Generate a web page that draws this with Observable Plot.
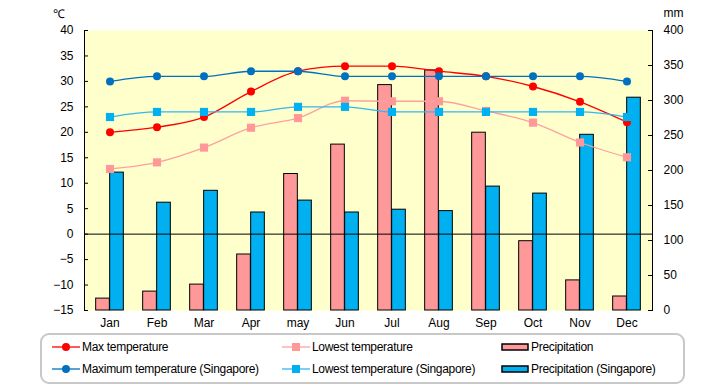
<!DOCTYPE html>
<html>
<head>
<meta charset="utf-8">
<script src="https://cdn.jsdelivr.net/npm/d3@7"></script>
<script src="https://cdn.jsdelivr.net/npm/@observablehq/plot@0.6"></script>
<style>
  body { margin: 0; background: #fff; font-family: "Liberation Sans", Arial, sans-serif; }
  #wrap { width: 720px; height: 385px; position: relative; }
  #legend { position: absolute; left: 40px; top: 333px; width: 641px; height: 47px; border: 2px solid #c8c8c8; border-radius: 9px; font-size: 12px; letter-spacing: -0.3px; }
  .item { position: absolute; display: flex; align-items: center; white-space: nowrap; }
  .item svg { margin-right: 2px; }
</style>
</head>
<body>
<div id="wrap"><div id="chart"></div><div id="legend"></div></div>
<script>
const months = ["Jan","Feb","Mar","Apr","may","Jun","Jul","Aug","Sep","Oct","Nov","Dec"];
const maxTemp = [20,21,23,28,32,33,33,32,31,29,26,22];
const lowTemp = [12.8,14.1,17,20.9,22.8,26.2,26.1,26.1,24.2,21.9,18,15.1];
const precip = [17,27,37,80,195,237,322,343,254,99,43,20];
const sgMaxTemp = [30,31,31,32,32,31,31,31,31,31,31,30];
const sgLowTemp = [23,24,24,24,25,25,24,24,24,24,24,23];
const sgPrecip = [197,154,171,140,157,140,144,142,177,167,251,304];
const tempTicks = [-15,-10,-5,0,5,10,15,20,25,30,35,40];
const mmTicks = [0,50,100,150,200,250,300,350,400];

const RED = "#FF0000", PINK = "#FF9999", BLUE = "#0070C0", CYAN = "#00B0F0";
const W = 720, H = 330, ML = 84, MR = 68, MT = 30, MB = 20;
const bw = (W - ML - MR) / months.length;
const barW = 14;
const toC = mm => -15 + mm * 55 / 400;

const data = months.map((m, i) => ({
  month: m, maxTemp: maxTemp[i], lowTemp: lowTemp[i], precip: precip[i],
  sgMaxTemp: sgMaxTemp[i], sgLowTemp: sgLowTemp[i], sgPrecip: sgPrecip[i]
}));

const font = '"Liberation Sans", Arial, sans-serif';

const chart = Plot.plot({
  width: W, height: H,
  marginLeft: ML, marginRight: MR, marginTop: MT, marginBottom: MB,
  style: { fontFamily: font, fontSize: "12px", background: "white", color: "black" },
  x: { type: "band", domain: months, padding: 0 },
  y: { domain: [-15, 40] },
  marks: [
    Plot.frame({ fill: "#FFFFCC", stroke: null }),
    Plot.barY(data, { x: "month", y1: -15, y2: d => toC(d.precip), fill: PINK, stroke: "black", strokeWidth: 1, insetLeft: bw / 2 - barW, insetRight: bw / 2 }),
    Plot.barY(data, { x: "month", y1: -15, y2: d => toC(d.sgPrecip), fill: CYAN, stroke: "black", strokeWidth: 1, insetLeft: bw / 2, insetRight: bw / 2 - barW }),
    Plot.ruleY([0], { stroke: "black", strokeWidth: 1 }),
    Plot.line(data, { x: "month", y: "maxTemp", stroke: RED, strokeWidth: 1.3, curve: "monotone-x" }),
    Plot.dot(data, { x: "month", y: "maxTemp", fill: RED, r: 4 }),
    Plot.line(data, { x: "month", y: "lowTemp", stroke: "#FFA0A0", strokeWidth: 1.3, curve: "monotone-x" }),
    Plot.dot(data, { x: "month", y: "lowTemp", fill: PINK, symbol: "square", r: 4.6 }),
    Plot.line(data, { x: "month", y: "sgMaxTemp", stroke: BLUE, strokeWidth: 1.3, curve: "monotone-x" }),
    Plot.dot(data, { x: "month", y: "sgMaxTemp", fill: BLUE, r: 4 }),
    Plot.line(data, { x: "month", y: "sgLowTemp", stroke: "#30B8F0", strokeWidth: 1.3, curve: "monotone-x" }),
    Plot.dot(data, { x: "month", y: "sgLowTemp", fill: CYAN, symbol: "square", r: 4.6 }),
    Plot.frame({ anchor: "left", stroke: "black" }),
    Plot.frame({ anchor: "right", stroke: "black" }),
    Plot.ruleY(tempTicks, { stroke: "black", insetRight: W - ML - MR - 4 }),
    Plot.ruleY(mmTicks.map(toC), { stroke: "black", insetLeft: W - ML - MR - 4 }),
    Plot.axisY({ anchor: "left", ticks: tempTicks, tickSize: 0, tickPadding: 11, label: null, tickFormat: d => d < 0 ? "\u2212" + Math.abs(d) : String(d) }),
    Plot.axisY({ anchor: "right", ticks: mmTicks.map(toC), tickSize: 0, tickPadding: 11, label: null, tickFormat: d => String(Math.round((d + 15) * 400 / 55)) }),
    Plot.axisX({ anchor: "bottom", tickSize: 0, tickPadding: 8, label: null }),
    Plot.text(["℃"], { frameAnchor: "top-left", dx: -32, dy: -21, fontSize: 12 }),
    Plot.text(["mm"], { frameAnchor: "top-right", dx: 31, dy: -22, fontSize: 12 })
  ]
});
document.getElementById("chart").appendChild(chart);

// legend
const legendItems = [
  { label: "Max temperature", type: "circle", color: RED, line: RED, x: 10, y: 5 },
  { label: "Lowest temperature", type: "square", color: PINK, line: "#FFA0A0", x: 240, y: 5 },
  { label: "Precipitation", type: "bar", color: PINK, x: 459, y: 5 },
  { label: "Maximum temperature (Singapore)", type: "circle", color: BLUE, line: BLUE, x: 10, y: 27 },
  { label: "Lowest temperature (Singapore)", type: "square", color: CYAN, line: "#30B8F0", x: 240, y: 27 },
  { label: "Precipitation (Singapore)", type: "bar", color: CYAN, x: 459, y: 27 }
];
const legend = document.getElementById("legend");
for (const it of legendItems) {
  const div = document.createElement("div");
  div.className = "item";
  div.style.left = it.x + "px";
  div.style.top = it.y + "px";
  let sym;
  if (it.type === "bar") {
    sym = `<svg width="28" height="14"><rect x="1" y="4" width="26" height="6" fill="${it.color}" stroke="black" stroke-width="1.5"/></svg>`;
  } else if (it.type === "circle") {
    sym = `<svg width="28" height="14"><line x1="0" x2="28" y1="7" y2="7" stroke="${it.line}" stroke-width="1.3"/><circle cx="14" cy="7" r="4" fill="${it.color}"/></svg>`;
  } else {
    sym = `<svg width="28" height="14"><line x1="0" x2="28" y1="7" y2="7" stroke="${it.line}" stroke-width="1.3"/><rect x="10" y="3" width="8" height="8" fill="${it.color}"/></svg>`;
  }
  div.innerHTML = sym + `<span>${it.label}</span>`;
  legend.appendChild(div);
}
</script>
</body>
</html>
